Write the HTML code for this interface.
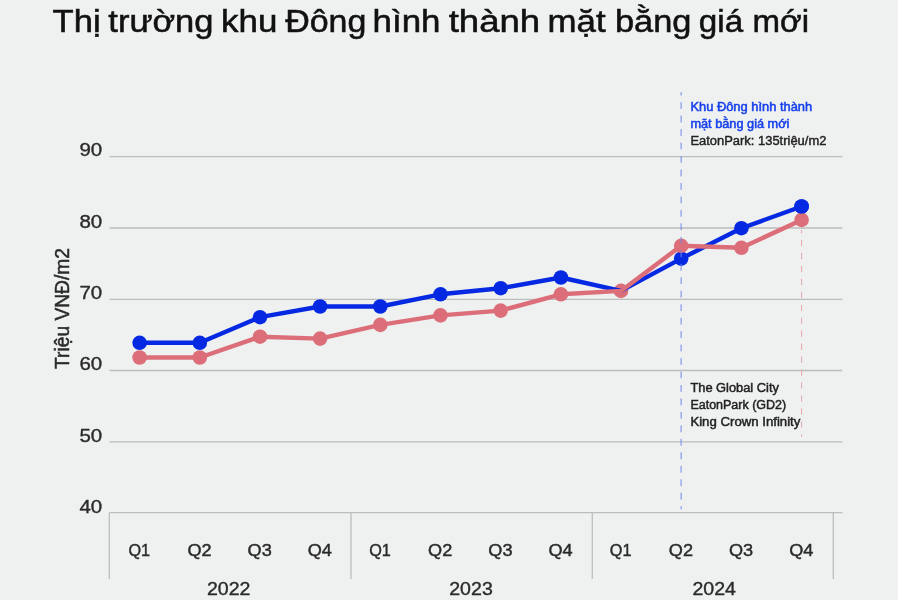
<!DOCTYPE html>
<html><head><meta charset="utf-8"><title>Chart</title>
<style>html,body{margin:0;padding:0;background:#fff;}body{width:900px;height:600px;overflow:hidden;}svg{display:block;}text{font-family:"Liberation Sans",sans-serif;}</style></head><body>
<svg style="will-change:transform" width="900" height="600" viewBox="0 0 900 600">
<rect x="0" y="0" width="897.8" height="600" fill="#eff0f0"/>
<g font-size="32" fill="#111" stroke="#111" stroke-width="0.55">
<text x="52.62" y="31.7" textLength="48.0" lengthAdjust="spacingAndGlyphs">Thị</text>
<text x="108.3" y="31.7" textLength="105.2" lengthAdjust="spacingAndGlyphs">trường</text>
<text x="221.07" y="31.7" textLength="56.3" lengthAdjust="spacingAndGlyphs">khu</text>
<text x="285.19" y="31.7" textLength="81.1" lengthAdjust="spacingAndGlyphs">Đông</text>
<text x="372.58" y="31.7" textLength="67.9" lengthAdjust="spacingAndGlyphs">hình</text>
<text x="448.67" y="31.7" textLength="91.5" lengthAdjust="spacingAndGlyphs">thành</text>
<text x="547.48" y="31.7" textLength="58.1" lengthAdjust="spacingAndGlyphs">mặt</text>
<text x="614.94" y="31.7" textLength="76.5" lengthAdjust="spacingAndGlyphs">bằng</text>
<text x="698.81" y="31.7" textLength="44.3" lengthAdjust="spacingAndGlyphs">giá</text>
<text x="752.55" y="31.7" textLength="56.5" lengthAdjust="spacingAndGlyphs">mới</text>
</g>
<g stroke="#bcbdbd" stroke-width="1.3">
<line x1="109.5" x2="842.3" y1="156.6" y2="156.6"/>
<line x1="109.5" x2="842.3" y1="228.0" y2="228.0"/>
<line x1="109.5" x2="842.3" y1="299.3" y2="299.3"/>
<line x1="109.5" x2="842.3" y1="370.5" y2="370.5"/>
<line x1="109.5" x2="842.3" y1="441.8" y2="441.8"/>
<line x1="109.5" x2="842.3" y1="512.7" y2="512.7"/>
<line x1="109.3" x2="109.3" y1="512.7" y2="579"/>
<line x1="351" x2="351" y1="512.7" y2="579"/>
<line x1="592.3" x2="592.3" y1="512.7" y2="579"/>
<line x1="833.3" x2="833.3" y1="512.7" y2="579"/>
</g>
<g font-size="18" fill="#2a2a2a" stroke="#2a2a2a" stroke-width="0.35">
<text x="79.4" y="156.4" textLength="22.8" lengthAdjust="spacingAndGlyphs">90</text>
<text x="79.4" y="227.8" textLength="22.8" lengthAdjust="spacingAndGlyphs">80</text>
<text x="79.4" y="299.1" textLength="22.8" lengthAdjust="spacingAndGlyphs">70</text>
<text x="79.4" y="370.3" textLength="22.8" lengthAdjust="spacingAndGlyphs">60</text>
<text x="79.4" y="441.6" textLength="22.8" lengthAdjust="spacingAndGlyphs">50</text>
<text x="79.4" y="512.5" textLength="22.8" lengthAdjust="spacingAndGlyphs">40</text>
</g>
<text transform="translate(68.8,369) rotate(-90)" font-size="19.6" fill="#2a2a2a" stroke="#2a2a2a" stroke-width="0.5" textLength="121" lengthAdjust="spacingAndGlyphs">Triệu VNĐ/m2</text>
<g font-size="16.9" fill="#2a2a2a" stroke="#2a2a2a" stroke-width="0.42" text-anchor="middle">
<text x="139.3" y="555.7" textLength="21.7" lengthAdjust="spacingAndGlyphs">Q1</text>
<text x="199.5" y="555.7" textLength="24.2" lengthAdjust="spacingAndGlyphs">Q2</text>
<text x="259.7" y="555.7" textLength="24.2" lengthAdjust="spacingAndGlyphs">Q3</text>
<text x="319.8" y="555.7" textLength="24.2" lengthAdjust="spacingAndGlyphs">Q4</text>
<text x="380.0" y="555.7" textLength="21.7" lengthAdjust="spacingAndGlyphs">Q1</text>
<text x="440.2" y="555.7" textLength="24.2" lengthAdjust="spacingAndGlyphs">Q2</text>
<text x="500.4" y="555.7" textLength="24.2" lengthAdjust="spacingAndGlyphs">Q3</text>
<text x="560.6" y="555.7" textLength="24.2" lengthAdjust="spacingAndGlyphs">Q4</text>
<text x="620.7" y="555.7" textLength="21.7" lengthAdjust="spacingAndGlyphs">Q1</text>
<text x="680.9" y="555.7" textLength="24.2" lengthAdjust="spacingAndGlyphs">Q2</text>
<text x="741.1" y="555.7" textLength="24.2" lengthAdjust="spacingAndGlyphs">Q3</text>
<text x="801.3" y="555.7" textLength="24.2" lengthAdjust="spacingAndGlyphs">Q4</text>
<text x="228.7" y="594.6" font-size="17.7" stroke-width="0.35" textLength="43.6" lengthAdjust="spacingAndGlyphs">2022</text>
<text x="471" y="594.6" font-size="17.7" stroke-width="0.35" textLength="43.6" lengthAdjust="spacingAndGlyphs">2023</text>
<text x="714.2" y="594.6" font-size="17.7" stroke-width="0.35" textLength="43.6" lengthAdjust="spacingAndGlyphs">2024</text>
</g>
<circle cx="139.6" cy="342.8" r="7.3" fill="#0529e2"/>
<circle cx="199.8" cy="342.8" r="7.3" fill="#0529e2"/>
<circle cx="260.0" cy="317.2" r="7.3" fill="#0529e2"/>
<circle cx="320.1" cy="306.5" r="7.3" fill="#0529e2"/>
<circle cx="380.3" cy="306.5" r="7.3" fill="#0529e2"/>
<circle cx="440.5" cy="294.3" r="7.3" fill="#0529e2"/>
<circle cx="500.7" cy="288.2" r="7.3" fill="#0529e2"/>
<circle cx="560.9" cy="277.5" r="7.3" fill="#0529e2"/>
<circle cx="681.2" cy="258.6" r="7.3" fill="#0529e2"/>
<circle cx="741.4" cy="228.2" r="7.3" fill="#0529e2"/>
<circle cx="801.6" cy="206.5" r="7.3" fill="#0529e2"/>
<circle cx="139.6" cy="357.5" r="7.3" fill="#dc6e7a"/>
<circle cx="199.8" cy="357.5" r="7.3" fill="#dc6e7a"/>
<circle cx="260.0" cy="336.7" r="7.3" fill="#dc6e7a"/>
<circle cx="320.1" cy="338.6" r="7.3" fill="#dc6e7a"/>
<circle cx="380.3" cy="324.9" r="7.3" fill="#dc6e7a"/>
<circle cx="440.5" cy="315.4" r="7.3" fill="#dc6e7a"/>
<circle cx="500.7" cy="310.6" r="7.3" fill="#dc6e7a"/>
<circle cx="560.9" cy="294.3" r="7.3" fill="#dc6e7a"/>
<circle cx="621.0" cy="290.9" r="7.3" fill="#dc6e7a"/>
<circle cx="681.2" cy="245.8" r="7.3" fill="#dc6e7a"/>
<circle cx="741.4" cy="247.8" r="7.3" fill="#dc6e7a"/>
<circle cx="801.6" cy="219.9" r="7.3" fill="#dc6e7a"/>
<circle cx="801.6" cy="206.5" r="7.3" fill="#0529e2"/>
<polyline points="139.6,342.8 199.8,342.8 260.0,317.2 320.1,306.5 380.3,306.5 440.5,294.3 500.7,288.2 560.9,277.5 621.0,290.9 681.2,258.6 741.4,228.2 801.6,206.5" fill="none" stroke="#0529e2" stroke-width="4.4" stroke-linejoin="round" stroke-linecap="round"/>
<polyline points="139.6,357.5 199.8,357.5 260.0,336.7 320.1,338.6 380.3,324.9 440.5,315.4 500.7,310.6 560.9,294.3 621.0,290.9 681.2,245.8 741.4,247.8 801.6,219.9" fill="none" stroke="#dc6e7a" stroke-width="4.4" stroke-linejoin="round" stroke-linecap="round"/>
<line x1="681.1" x2="681.1" y1="92.2" y2="509.3" stroke="#7087eb" stroke-width="1.0" stroke-dasharray="6.8 6.67" stroke-dashoffset="3.5"/>
<line x1="801.6" x2="801.6" y1="229.9" y2="436.8" stroke="#e9a5ae" stroke-width="1.0" stroke-dasharray="6.3 6.65" stroke-dashoffset="2.9"/>
<g font-size="12">
<text x="690.4" y="110.7" fill="#1640ec" stroke="#1640ec" stroke-width="0.5" textLength="121.8" lengthAdjust="spacingAndGlyphs">Khu Đông hình thành</text>
<text x="690.4" y="127.8" fill="#1640ec" stroke="#1640ec" stroke-width="0.5" textLength="99" lengthAdjust="spacingAndGlyphs">mặt bằng giá mới</text>
<text x="690.4" y="144.9" fill="#222" stroke="#222" stroke-width="0.4" textLength="136" lengthAdjust="spacingAndGlyphs">EatonPark: 135triệu/m2</text>
<text x="690.4" y="392.2" fill="#222" stroke="#222" stroke-width="0.45" textLength="88.5" lengthAdjust="spacingAndGlyphs">The Global City</text>
<text x="690.4" y="409.3" fill="#222" stroke="#222" stroke-width="0.45" textLength="95.8" lengthAdjust="spacingAndGlyphs">EatonPark (GD2)</text>
<text x="690.4" y="426" fill="#222" stroke="#222" stroke-width="0.45" textLength="110" lengthAdjust="spacingAndGlyphs">King Crown Infinity</text>
</g>
</svg></body></html>
